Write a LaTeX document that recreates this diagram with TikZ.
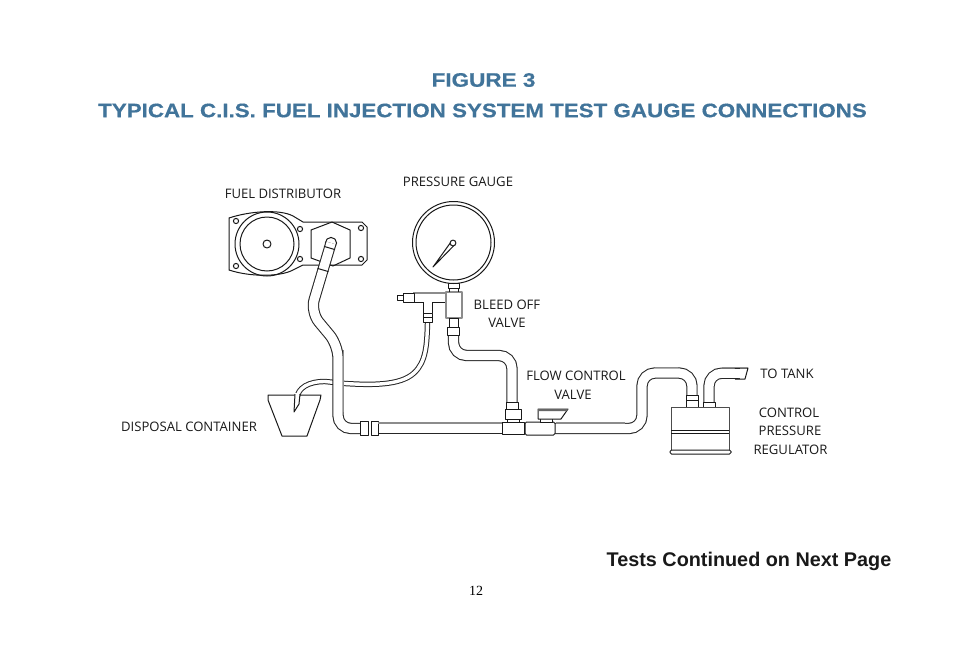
\documentclass[tikz,border=0pt]{standalone}
\usepackage{fontspec}
\setmainfont{Liberation Sans}
\newfontfamily\lblfont{Open Sans}
\newfontfamily\pagefont{Liberation Serif}
\newfontfamily\ttlfont[FakeBold=0.5]{Liberation Sans Bold}
\definecolor{titleblue}{HTML}{41749A}
\tikzset{
  wall/.style={line width=1pt,draw=black!90,line join=round},
  tube/.style={draw=black!85,line width=1.05pt,double=white,double distance=#1,rounded corners=13pt},
  tube/.default=9.2pt,
  hose/.style={draw=black!85,line width=1pt,double=white,double distance=3.4pt},
  part/.style={wall,fill=white},
  shade/.style={draw=black!45,line width=1.4pt},
  lbl/.style={font=\lblfont\fontsize{13.1}{14}\selectfont,inner sep=0pt,text=black!90,yshift=-0.6pt},
  ttl/.style={font=\ttlfont\fontsize{19.5}{22}\selectfont,text=titleblue,inner sep=0pt},
}
\begin{document}
\begin{tikzpicture}[x=1pt,y=-1pt]
\useasboundingbox (0,0) rectangle (954,656);
% titles
\node[ttl] (fig) at (483.5,80) {\scalebox{1.155}[1]{FIGURE 3}};
\node[ttl] (title) at (482.5,110.5) {\scalebox{1.146}[1]{TYPICAL C.I.S. FUEL INJECTION SYSTEM TEST GAUGE CONNECTIONS}};
\node[font=\bfseries\fontsize{19.8}{22}\selectfont,inner sep=0pt,text=black!90] (cont) at (749,561) {Tests Continued on Next Page};
\node[font=\pagefont\fontsize{14}{16}\selectfont,inner sep=0pt] (pg) at (476,591) {12};
% labels
\node[lbl] (lfd) at (283,193) {FUEL DISTRIBUTOR};
\node[lbl] (lpg) at (458,181) {PRESSURE GAUGE};
\node[lbl] (lbo1) at (507,304) {BLEED OFF};
\node[lbl] (lbo2) at (507,322) {VALVE};
\node[lbl] (lfc1) at (576,375) {FLOW CONTROL};
\node[lbl] (lfc2) at (573,394) {VALVE};
\node[lbl] (ltt) at (787,373) {TO TANK};
\node[lbl] (lc1) at (789,412) {CONTROL};
\node[lbl] (lc2) at (790,430) {PRESSURE};
\node[lbl] (lc3) at (790.5,449) {REGULATOR};
\node[lbl] (ldc) at (189,426) {DISPOSAL CONTAINER};
% fuel distributor plate
\draw[wall] (229,218) .. controls (250,211) and (280,209) .. (293,216) -- (303,222) -- (362,222) -- (367,227) -- (367,260) -- (362,265) -- (303,265) -- (293,270) .. controls (280,277) and (250,277) .. (229,270) -- cycle;
\foreach \hx/\hy in {236/221,300/229,300/259,236/266,361/228,361/259}{\draw[wall] (\hx,\hy) circle (2.6);}
\draw[wall] (267,244) circle (32) (267,244) circle (27) (267,244) circle (4);
\draw[wall] (311,230) -- (332,222) -- (350,230) -- (350,258) -- (333,266) -- (311,258) -- cycle;
% disposal hose (behind main tube)
\draw[hose] (427.5,322) .. controls (427,345) and (426,362) .. (414,373) .. controls (400,386) and (370,385) .. (345,383.5) -- (325,381.5) .. controls (308,381.5) and (298,388) .. (297,398);
% container
\draw[wall] (268,395) -- (321,395) -- (320,400) -- (307,436) -- (282,436) -- (268,400) -- cycle;
% hose end inside container
\fill[white] (294.6,393) -- (300,393) -- (299,404) -- (294,412) -- cycle;
\draw[wall] (295,394) -- (294,412) -- (299,404) -- (300,394);
% tube from distributor to main line
\draw[wall,fill=white] (331,243) circle (5.6);
\draw[tube] (331,243) -- (310.5,312) -- (338,345) -- (338,428.5) -- (362,428.5);
\draw[wall] (324.1,246.4) -- (334.9,249.6) (317.6,268.4) -- (328.4,271.6);
\draw[shade] (343.3,350) -- (343.3,412);
% main horizontal
\draw[tube] (375,428.5) -- (505,428.5);
\draw[part] (360,421.5) rectangle (368,435);
\draw[part] (371,421.5) rectangle (378,435);
\draw[shade] (378,423) -- (502,423);
% from valve to regulator
\draw[tube] (553,428.5) -- (642,428.5) -- (642,373) -- (692,373) -- (692,396);
\draw[shade] (556,423) -- (625,423) (655,367.7) -- (678,367.7) (697.6,385) -- (697.6,395);
\draw[tube] (709,403) -- (709,373) -- (746,373.5);
\fill[white] (740,367) rectangle (752,380);
\draw[wall] (735,368) -- (748,368) -- (745,379) -- (735,379);
\draw[shade] (722,367.7) -- (748,367.7);
% gauge to T
\draw[tube] (453.5,333) -- (453.5,355.5) -- (512,355.5) -- (512,404);
% T / valve body
\draw[wall] (413,302) -- (423,302) (432,302) -- (446,302) (423,302) -- (423,313) (432,302) -- (432,313);
\draw[shade] (413,293) -- (446,293);
\draw[part] (403,293) rectangle (414,302);
\draw[part] (397,295) rectangle (403,300.5);
\draw[part] (423,313) rectangle (432,322);
\draw[wall] (423,317.5) -- (432,317.5);
\draw[part] (448,283) rectangle (459,288);
\draw[part,draw=black!45,line width=1.4pt] (446,292) rectangle (462,318);
\draw[wall] (449,288) -- (449,292) (458,288) -- (458,292);
\draw[part] (449,318) rectangle (458,327);
\draw[part] (447,327) rectangle (459,335);
% gauge
\draw[wall,fill=white] (453.5,242.5) circle (41);
\draw[wall] (453.5,242.5) circle (37.5);
\draw[wall,fill=white] (451.3,241.5) -- (433,267) -- (454.6,244.8);
\draw[wall,fill=white] (453,243) circle (2.9);
% tee, valve
\draw[part] (505,409) rectangle (521,419);
\draw[part] (506.5,402) rectangle (518,409);
\draw[wall] (507,419) -- (507,422) (519,419) -- (519,422);
\draw[part] (502,422) rectangle (524,434);
\draw[part,rounded corners=1.5pt] (525,422) rectangle (555,435);
\draw[part] (540,418) rectangle (552,422);
\draw[part] (538,409) -- (568,409) -- (561,419) -- (538,419) -- cycle;
\fill[black!60] (538,409) -- (568,409) -- (566.5,411.2) -- (538,411.2) -- cycle;
% regulator
\draw[part] (686,395) rectangle (698,400);
\draw[part] (686,400) rectangle (698,407);
\draw[part] (703,402) rectangle (715,407);
\draw[part,draw=black!70] (671,407) rectangle (729,450);
\draw[wall] (671,430) -- (729,430) (671,433) -- (729,433);
\draw[part,rounded corners=1.5pt] (670,450) rectangle (731,454);
\end{tikzpicture}
\end{document}
